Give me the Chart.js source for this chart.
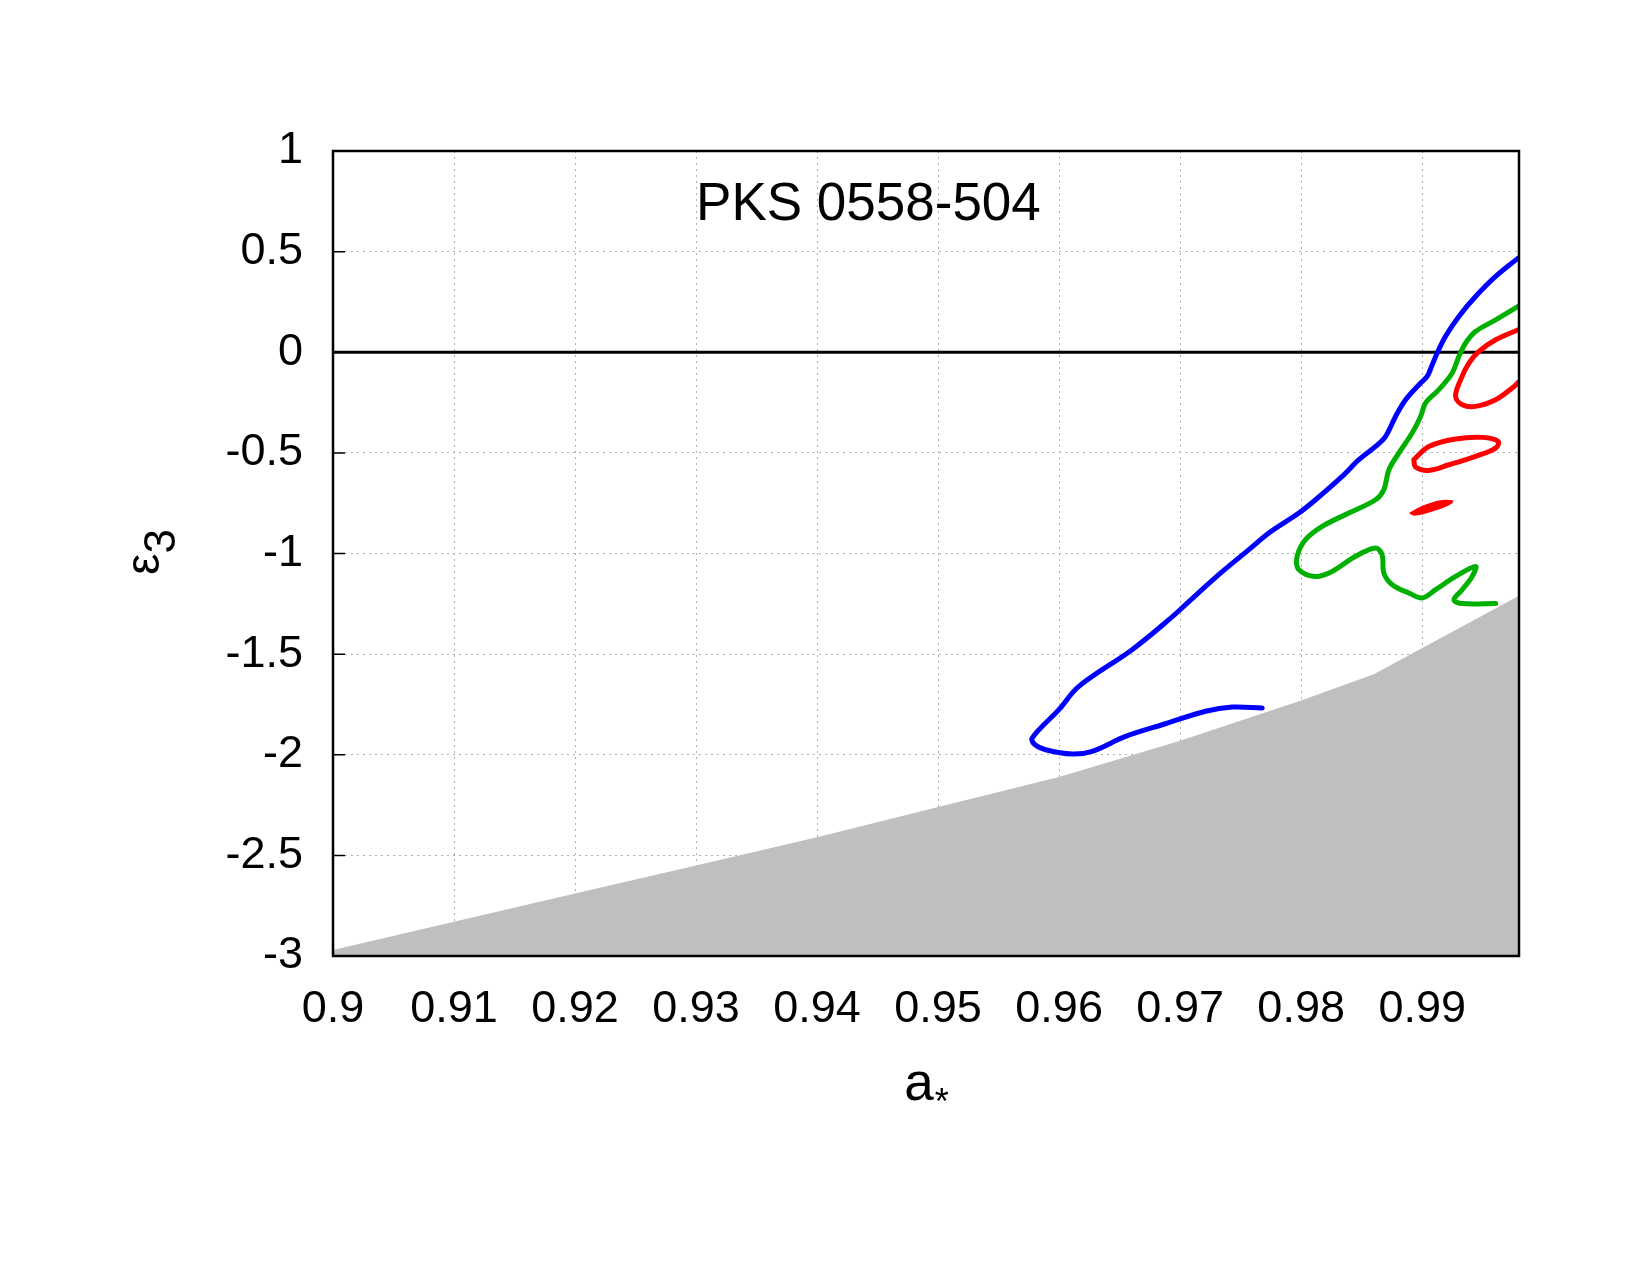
<!DOCTYPE html>
<html><head><meta charset="utf-8">
<script src="https://cdn.jsdelivr.net/npm/chart.js@4/dist/chart.umd.min.js"></script>
<style>html,body{margin:0;padding:0;background:#fff;}</style>
</head><body>
<canvas id="c" width="1650" height="1275"></canvas>
<script>
// ---- axis ranges / labels ----
const X_MIN = 0.9, X_MAX = 0.998, X_STEP = 0.01;
const Y_MIN = -3, Y_MAX = 1, Y_STEP = 0.5;
const xTitleMain = 'a', xTitleSub = '*';
const yTitleMain = 'ε', yTitleSub = '3';
const panelLabel = 'PKS 0558-504';
const panelLabelX = 0.93, panelLabelY = 0.73;

// ---- excluded region (gray) boundary ----
const grayA = [0.9, 0.91, 0.92, 0.93, 0.94, 0.95, 0.96, 0.97, 0.98, 0.986, 0.998];
const grayE = [-2.97, -2.83, -2.69, -2.55, -2.41, -2.26, -2.11, -1.93, -1.73, -1.60, -1.21];

// ---- zero line ----
const zeroA = [0.9, 0.998];
const zeroE = [0, 0];

// ---- blue contour ----
const blueA = [0.99793,0.99607,0.99441,0.99303,0.99193,0.99124,0.99078,0.99041,0.98987,0.98863,0.9878,0.98698,0.98615,0.98477,0.98339,0.98119,0.97981,0.97733,0.97568,0.97331,0.9707,0.96907,0.96603,0.96163,0.95998,0.95777,0.958,0.95888,0.96107,0.96273,0.96549,0.96879,0.9721,0.9743,0.97678];
const blueE = [0.468,0.377,0.277,0.178,0.079,-0.004,-0.07,-0.12,-0.153,-0.236,-0.319,-0.418,-0.468,-0.534,-0.617,-0.733,-0.799,-0.898,-0.981,-1.099,-1.24,-1.329,-1.478,-1.66,-1.776,-1.917,-1.95,-1.975,-1.996,-1.983,-1.909,-1.846,-1.784,-1.763,-1.768];

// ---- green contour ----
const greenA = [0.99793,0.99607,0.99441,0.99359,0.99303,0.99248,0.99138,0.99028,0.98987,0.98917,0.98807,0.98725,0.98683,0.98615,0.98394,0.98174,0.98036,0.97967,0.97981,0.98119,0.98256,0.9845,0.98615,0.98669,0.98683,0.98752,0.9889,0.99,0.99111,0.99276,0.99441,0.99413,0.99331,0.99262,0.99331,0.99607];
const greenE = [0.228,0.161,0.103,0.046,-0.021,-0.103,-0.186,-0.252,-0.319,-0.401,-0.501,-0.584,-0.683,-0.733,-0.799,-0.865,-0.931,-1.014,-1.08,-1.114,-1.089,-1.014,-0.973,-1.006,-1.097,-1.155,-1.196,-1.221,-1.18,-1.114,-1.064,-1.114,-1.18,-1.23,-1.249,-1.249];

// ---- red contours ----
const red1A = [0.99793,0.99607,0.99469,0.99386,0.99317,0.99276,0.99331,0.99441,0.99607,0.99744,0.99793];
const red1E = [0.112,0.062,0.004,-0.054,-0.137,-0.219,-0.261,-0.269,-0.236,-0.178,-0.15];
const red2A = [0.98931,0.99055,0.99276,0.995,0.99628,0.99607,0.99441,0.99221,0.99055,0.98945,0.98931];
const red2E = [-0.534,-0.468,-0.431,-0.423,-0.443,-0.476,-0.517,-0.559,-0.587,-0.57,-0.534];
const red3A = [0.98904,0.99,0.99138,0.99248,0.99193,0.99028,0.98931,0.98904];
const red3E = [-0.799,-0.769,-0.741,-0.741,-0.763,-0.796,-0.807,-0.799];

const zip = (a, e) => a.map((v, i) => ({x: v, y: e[i]}));
const FONT = "'Liberation Sans', Arial, Helvetica, sans-serif";

const framePlugin = {
  id: 'frame',
  afterDatasetsDraw(chart) {
    const {ctx, chartArea: ca, scales} = chart;
    ctx.save();
    ctx.fillStyle = '#000';
    // panel label
    ctx.font = '53px ' + FONT;
    ctx.textAlign = 'left';
    ctx.textBaseline = 'middle';
    ctx.fillText(panelLabel, scales.x.getPixelForValue(panelLabelX), scales.y.getPixelForValue(panelLabelY));
    // frame
    ctx.strokeStyle = '#000';
    ctx.lineWidth = 2.5;
    ctx.strokeRect(ca.left, ca.top, ca.right - ca.left, ca.bottom - ca.top);
    // inward tick marks on left axis
    ctx.lineWidth = 1.5;
    ctx.beginPath();
    scales.y.ticks.forEach(t => {
      const py = scales.y.getPixelForValue(t.value);
      ctx.moveTo(ca.left, py); ctx.lineTo(ca.left + 12, py);
    });
    ctx.stroke();
    // x axis title: a with low asterisk
    const cx = (ca.left + ca.right) / 2;
    ctx.textBaseline = 'alphabetic';
    ctx.textAlign = 'left';
    ctx.font = '53px ' + FONT;
    const wA = ctx.measureText(xTitleMain).width;
    ctx.font = '36px ' + FONT;
    const wS = ctx.measureText(xTitleSub).width;
    const x0 = cx - (wA + wS) / 2;
    ctx.font = '53px ' + FONT;
    ctx.fillText(xTitleMain, x0, 1100);
    ctx.font = '36px ' + FONT;
    ctx.fillText(xTitleSub, x0 + wA + 1, 1114);
    // y axis title: epsilon with subscript 3 (rotated)
    ctx.translate(159, 575);
    ctx.rotate(-Math.PI / 2);
    ctx.font = '48px ' + FONT;
    const wE = ctx.measureText(yTitleMain).width;
    ctx.fillText(yTitleMain, 0, 0);
    ctx.font = '44px ' + FONT;
    ctx.fillText(yTitleSub, wE, 16);
    ctx.restore();
  }
};

const lineDs = (data, color, order, extra) => Object.assign({
  data, borderColor: color, borderWidth: 5, showLine: true, pointRadius: 0,
  tension: 0.35, fill: false, order, borderCapStyle: 'round', borderJoinStyle: 'round'
}, extra || {});

new Chart(document.getElementById('c'), {
  type: 'scatter',
  data: {
    datasets: [
      lineDs(zip(grayA, grayE), 'rgba(0,0,0,0)', 10, {borderWidth: 0, tension: 0, fill: 'start', backgroundColor: '#bfbfbf'}),
      lineDs(zip(zeroA, zeroE), '#000', 9, {borderWidth: 3, tension: 0, borderCapStyle: 'butt'}),
      lineDs(zip(blueA, blueE), '#0000ff', 3),
      lineDs(zip(greenA, greenE), '#00b000', 2),
      lineDs(zip(red1A, red1E), '#ff0000', 1),
      lineDs(zip(red2A, red2E), '#ff0000', 1),
      lineDs(zip(red3A, red3E), '#ff0000', 1, {borderWidth: 2, fill: 'shape', backgroundColor: '#ff0000', tension: 0.3})
    ]
  },
  options: {
    responsive: false,
    animation: false,
    devicePixelRatio: 1,
    layout: {padding: {top: 151, right: 131, bottom: 0, left: 0}},
    plugins: {legend: {display: false}, tooltip: {enabled: false}},
    scales: {
      x: {
        type: 'linear', min: X_MIN, max: X_MAX,
        afterFit(s) { s.height = 319; },
        border: {display: false, dash: [2, 4]},
        grid: {color: '#b0b0b0', lineWidth: 1, drawTicks: false},
        ticks: {
          stepSize: X_STEP, includeBounds: false, padding: 27, color: '#000',
          font: {family: FONT, size: 45}, maxRotation: 0, autoSkip: false,
          callback: v => Number(v.toFixed(2)).toString()
        },
        title: {display: false}
      },
      y: {
        type: 'linear', min: Y_MIN, max: Y_MAX,
        afterFit(s) { s.width = 333; },
        border: {display: false, dash: [2, 4]},
        grid: {color: '#b0b0b0', lineWidth: 1, drawTicks: false},
        ticks: {
          stepSize: Y_STEP, padding: 30, color: '#000',
          font: {family: FONT, size: 45}, autoSkip: false,
          callback: v => Number(v.toFixed(1)).toString()
        },
        title: {display: false}
      }
    }
  },
  plugins: [framePlugin]
});
</script>
</body></html>
